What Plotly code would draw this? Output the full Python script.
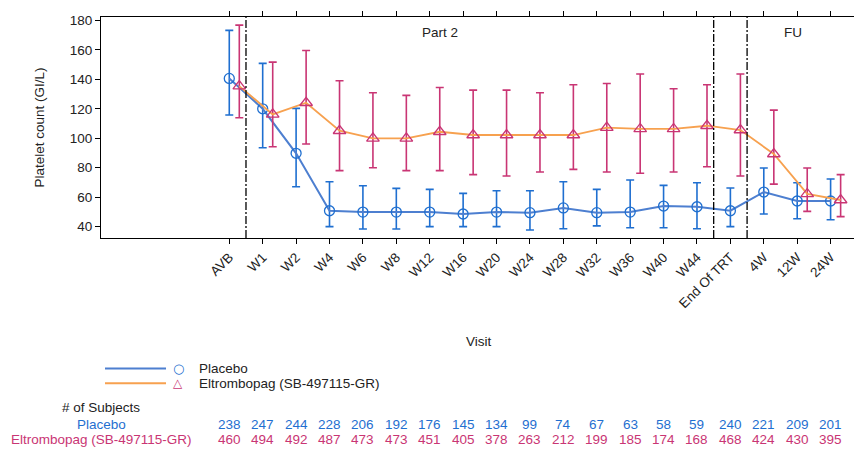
import plotly.graph_objects as go

visits = ["AVB", "W1", "W2", "W4", "W6", "W8", "W12", "W16", "W20", "W24", "W28",
          "W32", "W36", "W40", "W44", "End Of TRT", "4W", "12W", "24W"]

placebo_mean = [140.6, 120.0, 89.8, 50.8, 49.9, 49.9, 49.9, 48.6, 49.9, 49.5, 52.7,
                49.5, 49.9, 54.0, 53.5, 50.8, 63.5, 57.4, 57.4]
placebo_upper = [173.2, 150.8, 120.3, 70.5, 67.8, 66.0, 65.3, 62.6, 64.4, 64.4, 70.5,
                 65.3, 71.7, 68.0, 69.8, 66.2, 79.8, 69.8, 72.3]
placebo_lower = [115.8, 93.6, 67.1, 40.0, 38.4, 38.4, 40.0, 40.0, 40.0, 37.7, 38.6,
                 40.5, 39.3, 39.3, 38.6, 40.0, 48.6, 45.4, 44.7]

eltro_mean = [135.4, 116.2, 124.1, 105.1, 99.9, 99.9, 104.4, 102.2, 102.2, 102.2, 102.2,
              107.2, 106.3, 106.3, 108.5, 105.6, 89.3, 62.2, 58.1]
eltro_upper = [176.8, 151.7, 159.6, 139.0, 130.9, 129.1, 134.5, 132.7, 132.7, 130.9, 136.3,
               137.2, 143.6, 133.6, 136.3, 143.6, 119.1, 79.8, 75.3]
eltro_lower = [113.9, 94.2, 96.1, 78.0, 80.0, 78.0, 78.0, 75.3, 74.4, 77.1, 78.9,
               77.1, 76.2, 77.1, 80.7, 74.4, 68.9, 50.4, 46.8]

placebo_n = [238, 247, 244, 228, 206, 192, 176, 145, 134, 99, 74, 67, 63, 58, 59, 240, 221, 209, 201]
eltro_n = [460, 494, 492, 487, 473, 473, 451, 405, 378, 263, 212, 199, 185, 174, 168, 468, 424, 430, 395]

period_lines = [0.5, 14.5, 15.5]
period_labels = [("Part 2", 6.3), ("FU", 16.87)]

FONT = "Liberation Sans, Arial, sans-serif"
BLUE_LINE = "#4d7fd0"
BLUE = "#1f6fd0"
ORANGE = "#f7a14f"
MAGENTA = "#c93574"
EL_OFFSET = 0.3

idx = list(range(len(visits)))
el_x = [i + EL_OFFSET for i in idx]

fig = go.Figure()

fig.add_trace(go.Scatter(
    x=idx, y=placebo_mean, mode="lines+markers", name="Placebo",
    line=dict(color=BLUE_LINE, width=2),
    marker=dict(symbol="circle-open", size=10, color=BLUE, line=dict(width=1.3, color=BLUE)),
    error_y=dict(type="data", symmetric=False,
                 array=[u - m for u, m in zip(placebo_upper, placebo_mean)],
                 arrayminus=[m - l for m, l in zip(placebo_mean, placebo_lower)],
                 color=BLUE, thickness=1.6, width=4),
    showlegend=False,
))

fig.add_trace(go.Scatter(
    x=el_x, y=eltro_mean, mode="lines+markers", name="Eltrombopag (SB-497115-GR)",
    line=dict(color=ORANGE, width=1.8),
    marker=dict(symbol="triangle-up-open", size=11, color=MAGENTA, line=dict(width=1.3, color=MAGENTA)),
    error_y=dict(type="data", symmetric=False,
                 array=[u - m for u, m in zip(eltro_upper, eltro_mean)],
                 arrayminus=[m - l for m, l in zip(eltro_mean, eltro_lower)],
                 color=MAGENTA, thickness=1.6, width=4),
    showlegend=False,
))

leg_y = [-0.590, -0.657]

shapes = []
for xv in period_lines:
    shapes.append(dict(type="line", xref="x", yref="paper", x0=xv, x1=xv, y0=0, y1=1,
                       line=dict(color="black", width=1.3, dash="8px,2px,2px,2px")))
shapes.append(dict(type="line", xref="paper", yref="paper", x0=0.0053, x1=0.086,
                   y0=leg_y[0], y1=leg_y[0], line=dict(color=BLUE_LINE, width=2)))
shapes.append(dict(type="line", xref="paper", yref="paper", x0=0.0053, x1=0.086,
                   y0=leg_y[1], y1=leg_y[1], line=dict(color=ORANGE, width=2)))


def txt(text, x, y, xref="paper", color="#222", xanchor="center", size=13.5, family=FONT):
    return dict(text=text, x=x, y=y, xref=xref, yref="paper", showarrow=False,
                xanchor=xanchor, yanchor="middle", font=dict(size=size, color=color, family=family))


ann = []
for t, xv in period_labels:
    ann.append(txt(t, xv, 0.928, xref="x"))
ann.append(txt("○", 0.102, leg_y[0], color=BLUE, size=13, family="DejaVu Sans"))
ann.append(txt("△", 0.102, leg_y[1], color=MAGENTA, size=12, family="DejaVu Sans"))
ann.append(txt("Placebo", 0.127, leg_y[0], xanchor="left"))
ann.append(txt("Eltrombopag (SB-497115-GR)", 0.127, leg_y[1], xanchor="left"))
ann.append(txt("# of Subjects", 0.0, -0.769))
ann.append(txt("Placebo", 0.0, -0.842, color=BLUE))
ann.append(txt("Eltrombopag (SB-497115-GR)", 0.0, -0.914, color=MAGENTA))
for i, n in zip(idx, placebo_n):
    ann.append(txt(str(n), i, -0.842, xref="x", color=BLUE))
for i, n in zip(idx, eltro_n):
    ann.append(txt(str(n), i, -0.914, xref="x", color=MAGENTA))
ann.append(txt("Visit", 0.5, -0.468))

fig.update_layout(
    width=854, height=443,
    margin=dict(l=93, r=5, t=9, b=213),
    paper_bgcolor="white", plot_bgcolor="white",
    font=dict(family=FONT, size=13.5, color="#222"),
    shapes=shapes, annotations=ann,
    xaxis=dict(range=[-3.84, 18.79], tickmode="array", tickvals=idx, ticktext=visits,
               tickangle=-45, ticks="outside", ticklen=5, tickcolor="black",
               showline=True, linecolor="black", linewidth=1.2, mirror="ticks",
               showgrid=False, zeroline=False, automargin=False,
               tickfont=dict(size=13.5, color="#222")),
    yaxis=dict(range=[32.3, 182.3], tickmode="linear", tick0=40, dtick=20,
               ticks="outside", ticklen=5, tickcolor="black",
               showline=True, linecolor="black", linewidth=1.2, mirror="ticks",
               showgrid=False, zeroline=False, automargin=False,
               tickfont=dict(size=13.5, color="#222"),
               title=dict(text="Platelet count (GI/L)", font=dict(size=13.5, color="#222"), standoff=21)),
)

fig.write_html("out.html")
